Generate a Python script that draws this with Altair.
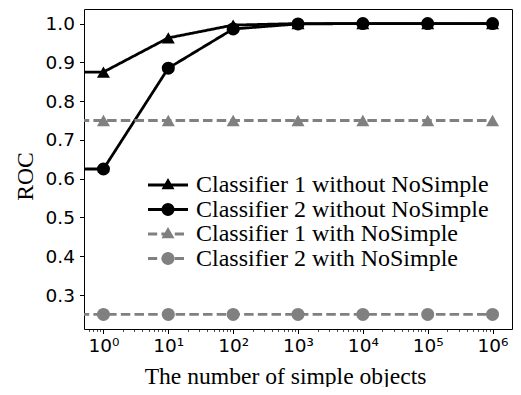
import math
import altair as alt
import pandas as pd

# ---- data ----
# the first x value stands in for x = 0 (clipped at the left edge of the log axis)
x_values = [0.1, 1, 10, 100, 1000, 10000, 100000, 1000000]
c1_without = [0.875, 0.875, 0.963, 0.996, 1.0, 1.0, 1.0, 1.0]
c2_without = [0.625, 0.625, 0.885, 0.986, 0.999, 1.0, 1.0, 1.0]
c1_with = [0.75, 0.75, 0.75, 0.75, 0.75, 0.75, 0.75, 0.75]
c2_with = [0.25, 0.25, 0.25, 0.25, 0.25, 0.25, 0.25, 0.25]
series_names = [
    "Classifier 1 without NoSimple",
    "Classifier 2 without NoSimple",
    "Classifier 1 with NoSimple",
    "Classifier 2 with NoSimple",
]
y_ticks = [0.3, 0.4, 0.5, 0.6, 0.7, 0.8, 0.9, 1.0]
x_tick_labels = ["10⁰", "10¹", "10²", "10³", "10⁴", "10⁵", "10⁶"]

series_values = [c1_without, c2_without, c1_with, c2_with]
rows = []
for name, vals in zip(series_names, series_values):
    for x, v in zip(x_values, vals):
        rows.append({"x": x, "roc": v, "series": name})
df = pd.DataFrame(rows)

# ---- styling ----
colors = ["black", "black", "gray", "gray"]
dashes = [[1, 0], [1, 0], [9.5, 4.2], [9.5, 4.2]]
shapes = ["triangle-up", "circle", "triangle-up", "circle"]

x_domain = [10 ** -0.3, 10 ** 6.3]
y_domain = [0.2125, 1.0375]

# tick positions on the log axis: majors + minors (2..9)
tick_vals = []
for k in range(-1, 7):
    for m in range(1, 10):
        v = m * 10 ** k
        if x_domain[0] <= v <= x_domain[1]:
            tick_vals.append(v)

is_major = "abs(log(datum.value)/LN10 - round(log(datum.value)/LN10)) < 1e-6"
label_arr = "[" + ",".join("'" + s + "'" for s in x_tick_labels) + "]"
label_expr = f"({is_major}) ? {label_arr}[round(log(datum.value)/LN10)] : ''"


# legend symbols: filled path = line (solid or dashed) + marker (same winding everywhere)
def rect(x0, x1, h=0.14):
    return f"M{x0:.3f},{-h}L{x1:.3f},{-h}L{x1:.3f},{h}L{x0:.3f},{h}Z"


half_len = 2.0
solid_part = rect(-half_len, half_len)
dash_part = ""
pos = -half_len
while pos < half_len:
    dash_part += rect(pos, min(pos + 0.92, half_len))
    pos += 0.92 + 0.42
tri_part = "M-0.65,0.42L0,-0.7L0.65,0.42Z"
circ_pts = []
for i in range(28):
    a = 2 * math.pi * i / 28
    circ_pts.append(f"{0.65 * math.cos(a):.3f},{0.65 * math.sin(a):.3f}")
circ_part = "M" + "L".join(circ_pts) + "Z"
legend_shapes = [solid_part + tri_part, solid_part + circ_part,
                 dash_part + tri_part, dash_part + circ_part]

x_enc = alt.X(
    "x:Q",
    scale=alt.Scale(type="log", domain=x_domain, nice=False),
    axis=alt.Axis(
        values=tick_vals,
        labelExpr=label_expr,
        labelOverlap=False,
        labelFont="DejaVu Sans",
        labelFontSize=18.5,
        labelColor="black",
        labelPadding=3,
        tickColor="black",
        tickSize={"condition": {"test": is_major, "value": 4.5}, "value": 2.5},
        tickWidth={"condition": {"test": is_major, "value": 1}, "value": 0.7},
        grid=False,
        domain=False,
        title="The number of simple objects",
        titleFont="Liberation Serif",
        titleFontSize=23.6,
        titleFontWeight="normal",
        titleColor="black",
        titleX=201,
        titleY=54,
        titleBaseline="alphabetic",
        titleAlign="center",
    ),
)
y_enc = alt.Y(
    "roc:Q",
    scale=alt.Scale(domain=y_domain, nice=False, zero=False),
    axis=alt.Axis(
        values=y_ticks,
        format=".1f",
        labelFont="DejaVu Sans",
        labelFontSize=18.5,
        labelColor="black",
        labelPadding=5,
        tickColor="black",
        tickSize=4.5,
        tickWidth=1,
        grid=False,
        domain=False,
        title="ROC",
        titleFont="Liberation Serif",
        titleFontSize=23.6,
        titleFontWeight="normal",
        titleColor="black",
        titleX=-59,
        titleY=167,
        titleAngle=270,
        titleBaseline="middle",
        titleAlign="center",
    ),
)

lines = alt.Chart(df).mark_line(clip=True, strokeWidth=2.8).encode(
    x=x_enc,
    y=y_enc,
    color=alt.Color("series:N", scale=alt.Scale(domain=series_names, range=colors), legend=None),
    strokeDash=alt.StrokeDash("series:N", scale=alt.Scale(domain=series_names, range=dashes), legend=None),
    detail="series:N",
)

points = alt.Chart(df).transform_filter("datum.x >= 1").mark_point(
    filled=True, size=170, opacity=1, strokeWidth=0
).encode(
    x=alt.X("x:Q"),
    y=alt.Y("roc:Q"),
    color=alt.Color("series:N", scale=alt.Scale(domain=series_names, range=colors), legend=None),
    shape=alt.Shape("series:N", scale=alt.Scale(domain=series_names, range=shapes), legend=None),
)

legend_layer = alt.Chart(df).transform_filter("false").mark_point(
    filled=True, opacity=1, strokeWidth=0
).encode(
    x=alt.X("x:Q"),
    y=alt.Y("roc:Q"),
    color=alt.Color("series:N", scale=alt.Scale(domain=series_names, range=colors), title=None),
    shape=alt.Shape("series:N", scale=alt.Scale(domain=series_names, range=legend_shapes), title=None),
)

chart = alt.layer(lines, points, legend_layer).resolve_scale(
    shape="independent", color="independent", strokeDash="independent"
).properties(
    width=428,
    height=320,
    autosize=alt.AutoSizeParams(type="none"),
    padding={"left": 76, "top": 1, "right": 1, "bottom": 58},
).configure_view(
    stroke="black", strokeWidth=1
).configure_legend(
    orient="none",
    legendX=72,
    legendY=164,
    padding=0,
    symbolSize=400,
    symbolStrokeWidth=0,
    labelFont="Liberation Serif",
    labelFontSize=24,
    labelColor="black",
    labelOffset=16,
    rowPadding=0.5,
    labelLimit=400,
)

chart.save("out.html", embed_options={"renderer": "svg", "actions": False})
